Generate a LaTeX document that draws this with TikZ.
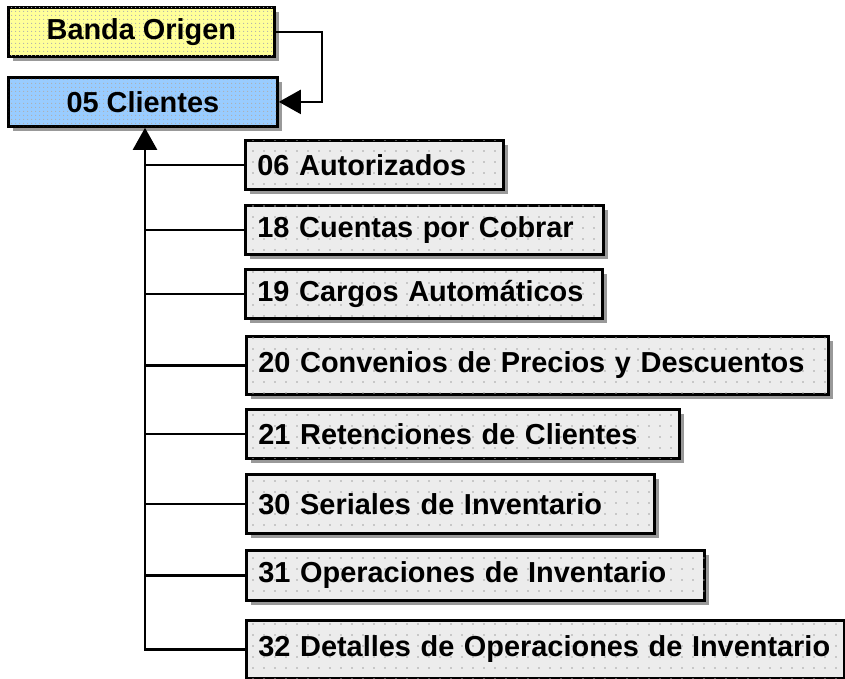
\documentclass[tikz,border=0pt]{standalone}
\usepackage{fontspec}
\setmainfont{Liberation Sans}
\usetikzlibrary{arrows.meta,patterns.meta,shadows}
\definecolor{byellow}{HTML}{FFFF99}
\definecolor{bblue}{HTML}{99CCFF}
\definecolor{bgray}{HTML}{ECECEC}
\definecolor{dotgray}{HTML}{8C8C8C}
\definecolor{shadowgray}{HTML}{999999}
\tikzset{
  basebox/.style={draw=black, line width=2.8pt, inner xsep=12pt, inner ysep=0pt,
    font=\bfseries\fontsize{28.9}{33}\selectfont,
    general shadow={fill=shadowgray, shadow xshift=4.5pt, shadow yshift=-4.5pt}},
  topbox/.style={basebox, align=center,
    postaction={pattern={Dots[distance=4pt, radius=0.75pt]}, pattern color=dotgray!70}},
  gbox/.style={basebox, fill=bgray, align=left,
    postaction={pattern={Dots[distance=11pt, radius=0.8pt]}, pattern color=dotgray!80}},
  conn/.style={line width=2.3pt, draw=black},
  arr/.style={conn, -{Triangle[length=22pt, width=24pt]}}
}
\newcommand\gboxnode[6]{%
  \pgfmathsetmacro\gtw{#4-#2-24}%
  \pgfmathsetmacro\gth{#5-#3}%
  \node[gbox, anchor=north west, minimum height=\gth pt, text width=\gtw pt] (#1) at (#2,#3) {\mbox{#6}};}
\begin{document}
\begin{tikzpicture}[x=1pt, y=-1pt]
\useasboundingbox (0,0) rectangle (845,679);
\node[topbox, fill=byellow, anchor=north west, minimum width=266pt, minimum height=49pt] (banda) at (7,6) {Banda Origen};
\node[topbox, fill=bblue, anchor=north west, minimum width=269pt, minimum height=49pt] (clientes) at (7,76) {05 Clientes};
\gboxnode{b06}{244}{139}{502}{188}{06 Autorizados}
\gboxnode{b18}{244}{204}{602}{253}{18 Cuentas por Cobrar}
\gboxnode{b19}{244}{268}{601}{317}{19 Cargos Automáticos}
\gboxnode{b20}{245}{335}{827}{393}{20 Convenios de Precios y Descuentos}
\gboxnode{b21}{245}{408}{678}{457}{21 Retenciones de Clientes}
\gboxnode{b30}{245}{473}{653}{532}{30 Seriales de Inventario}
\gboxnode{b31}{245}{549}{703}{599}{31 Operaciones de Inventario}
\gboxnode{b32}{245}{619}{843}{677}{32 Detalles de Operaciones de Inventario}
\coordinate (vx) at (145,0);
\coordinate (rx) at (322,0);
\draw[arr] (banda.east) -- (banda.east -| rx) |- (clientes.east);
\draw[arr] (b32.west) -| (clientes.south -| vx);
\foreach \b in {b06,b18,b19,b20,b21,b30,b31}
  \draw[conn] (\b.west) -- (\b.west -| vx);
\end{tikzpicture}
\end{document}
